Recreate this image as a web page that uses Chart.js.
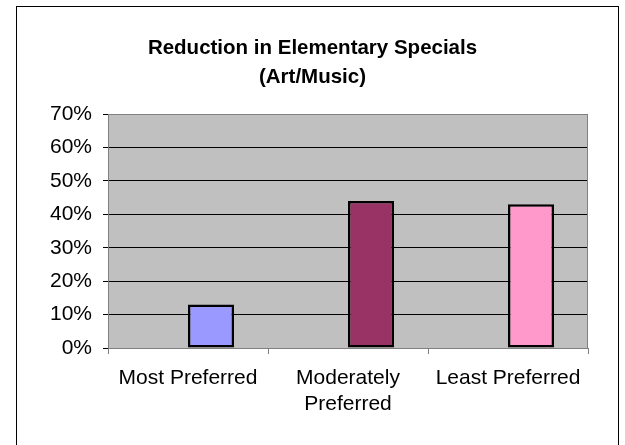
<!DOCTYPE html>
<html>
<head>
<meta charset="utf-8">
<script src="https://cdn.jsdelivr.net/npm/chart.js@4"></script>
<style>
  html, body { margin: 0; padding: 0; background: #ffffff; }
  #wrap { width: 625px; height: 445px; }
</style>
</head>
<body>
<div id="wrap"><canvas id="c" width="625" height="445"></canvas></div>
<script>
// ---- data ----
const categories = ['Most Preferred', ['Moderately', 'Preferred'], 'Least Preferred'];
const reductionValues = [13, 44, 43];
const placeholderSeries = [null, null, null];
const barColors = ['#9999FF', '#993366', '#FF99CC'];
const yTickLabels = ['0%', '10%', '20%', '30%', '40%', '50%', '60%', '70%'];
const titleLines = ['Reduction in Elementary Specials', '(Art/Music)'];

const FONT = '"Liberation Sans", Arial, sans-serif';

const framePlugin = {
  id: 'frame',
  beforeDraw(chart) {
    const ctx = chart.ctx;
    const a = chart.chartArea;
    ctx.save();
    ctx.fillStyle = '#ffffff';
    ctx.fillRect(0, 0, chart.width, chart.height);
    ctx.strokeStyle = '#000000';
    ctx.lineWidth = 1;
    ctx.strokeRect(16.5, 6.5, 602, 480);
    ctx.fillStyle = '#C0C0C0';
    ctx.fillRect(a.left, a.top, a.right - a.left, a.bottom - a.top);
    ctx.restore();
  },
  beforeDatasetsDraw(chart) {
    const ctx = chart.ctx;
    const a = chart.chartArea;
    ctx.save();
    ctx.strokeStyle = '#808080';
    ctx.lineWidth = 1;
    ctx.beginPath();
    ctx.moveTo(a.left, Math.round(a.top) + 0.5);
    ctx.lineTo(Math.round(a.right) - 0.5, Math.round(a.top) + 0.5);
    ctx.lineTo(Math.round(a.right) - 0.5, a.bottom);
    ctx.stroke();
    ctx.restore();
  }
};

new Chart(document.getElementById('c'), {
  type: 'bar',
  data: {
    labels: categories,
    datasets: [
      { label: 'placeholder', data: placeholderSeries, backgroundColor: '#000000' },
      {
        label: 'Reduction',
        data: reductionValues,
        backgroundColor: barColors,
        borderColor: '#000000',
        borderWidth: 2.5,
        borderSkipped: false
      }
    ]
  },
  options: {
    responsive: false,
    animation: false,
    devicePixelRatio: 1,
    categoryPercentage: 0.575,
    barPercentage: 1.0,
    layout: { padding: 0 },
    plugins: {
      legend: { display: false },
      tooltip: { enabled: false },
      title: {
        display: true,
        text: titleLines,
        color: '#000000',
        font: { family: FONT, size: 20.5, weight: 'bold', lineHeight: 1.44 },
        padding: { top: 33.5, bottom: 21.5 }
      }
    },
    scales: {
      x: {
        offset: true,
        grid: {
          offset: true,
          drawOnChartArea: false,
          drawTicks: true,
          tickLength: 6,
          tickColor: '#808080'
        },
        border: { display: true, color: '#808080', width: 1 },
        ticks: {
          color: '#000000',
          padding: 12,
          maxRotation: 0,
          autoSkip: false,
          font: { family: FONT, size: 21, lineHeight: 1.2 }
        },
        afterFit(scale) { scale.height = 97; }
      },
      y: {
        min: 0,
        max: 70,
        grid: {
          color: (c) => (c.tick && c.tick.value === 70 ? '#808080' : '#000000'),
          lineWidth: 1,
          drawTicks: true,
          tickLength: 5,
          tickColor: '#000000'
        },
        border: { display: true, color: '#808080', width: 1 },
        ticks: {
          stepSize: 10,
          color: '#000000',
          padding: 11,
          font: { family: FONT, size: 21 },
          callback: (value, index) => yTickLabels[index]
        },
        afterFit(scale) { scale.width = 108; }
      },
      ySpacer: {
        type: 'linear',
        position: 'right',
        min: 0,
        max: 70,
        grid: { display: false, drawTicks: false },
        border: { display: false },
        ticks: { display: false },
        afterFit(scale) { scale.width = 37; }
      }
    }
  },
  plugins: [framePlugin]
});
</script>
</body>
</html>
